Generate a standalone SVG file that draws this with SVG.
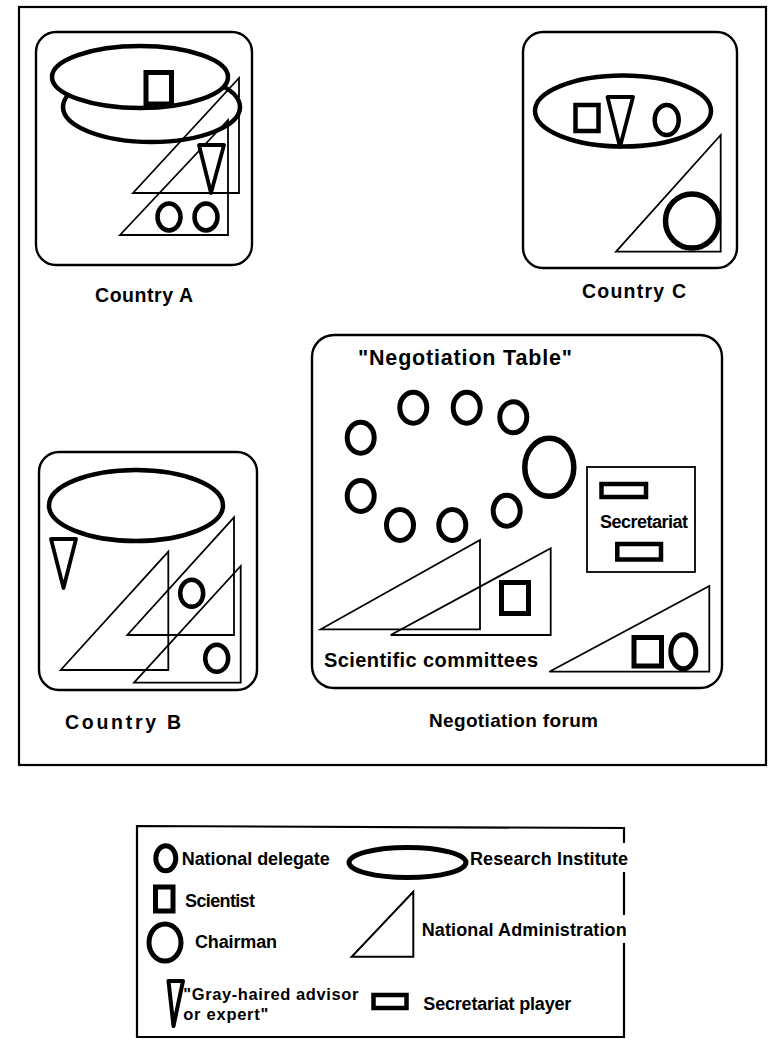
<svg xmlns="http://www.w3.org/2000/svg" width="769" height="1039" viewBox="0 0 769 1039">
<style>
text{font-family:"Liberation Sans",Arial,Helvetica,sans-serif;font-weight:bold;font-size:18px;fill:#000}
.label{font-size:19.5px}
.frame{fill:none;stroke:#000;stroke-width:2.2}
.box{fill:#fff;stroke:#000;stroke-width:2.4}
.thin{fill:none;stroke:#000;stroke-width:1.8;stroke-linejoin:miter}
.thick{fill:#fff;stroke:#000;stroke-width:4.5}
.open{fill:none;stroke:#000;stroke-width:4.5}
.v{fill:#fff;stroke:#000;stroke-width:3.8;stroke-linejoin:round}
</style>
<rect width="769" height="1039" fill="#fff"/>
<rect id="frame" class="frame" x="19" y="7" width="747" height="758"/>
<g id="connectors"/>

<g id="country-a">
  <rect class="box" x="36" y="32" width="216" height="233" rx="20"/>
  <ellipse class="open" cx="151.5" cy="107" rx="88.5" ry="35"/>
  <polygon class="thin" points="239,78 133,193 239,193"/>
  <polygon class="thin" points="228,120 120,235 228,235"/>
  <ellipse class="thick" cx="140" cy="77" rx="88" ry="31"/>
  <rect class="thick" x="146" y="72.5" width="25.5" height="31.5" style="stroke-width:5"/>
  <polygon class="v" points="199,145 224,145 211,193"/>
  <ellipse class="thick" cx="169" cy="217" rx="11.5" ry="13.5"/>
  <ellipse class="thick" cx="206" cy="217" rx="11.5" ry="13.5"/>
  <text class="label" x="95" y="302" textLength="98" lengthAdjust="spacing">Country A</text>
</g>

<g id="country-c">
  <rect class="box" x="523" y="32" width="214" height="236" rx="20"/>
  <ellipse class="thick" cx="623" cy="111" rx="88" ry="35.5"/>
  <rect class="thick" x="575.5" y="105" width="23" height="26"/>
  <polygon class="v" points="607.5,97 633,97 620,147"/>
  <ellipse class="thick" cx="666.7" cy="120" rx="12" ry="15"/>
  <polygon class="thin" points="720.7,135 616,251.7 720.7,251.7"/>
  <ellipse class="thick" cx="692" cy="221" rx="26.5" ry="27" style="stroke-width:5.5"/>
  <text class="label" x="582" y="298" textLength="104" lengthAdjust="spacing">Country C</text>
</g>

<g id="country-b">
  <rect class="box" x="39" y="452" width="218" height="238" rx="20"/>
  <ellipse class="thick" cx="136" cy="505.5" rx="87" ry="35.5"/>
  <polygon class="v" points="51,539 76,539 63.5,588"/>
  <polygon class="thin" points="168.3,551.7 60.7,670 168.3,670"/>
  <polygon class="thin" points="234,517.3 127.3,635 234,635"/>
  <polygon class="thin" points="240.7,566 134,682.7 240.7,682.7"/>
  <ellipse class="thick" cx="191.7" cy="593.3" rx="11.5" ry="13.5"/>
  <ellipse class="thick" cx="216.7" cy="658.3" rx="11.5" ry="13.5"/>
  <text class="label" x="65" y="729" textLength="116" lengthAdjust="spacing">Country B</text>
</g>

<g id="negotiation-forum">
  <rect class="box" x="312" y="335" width="410" height="353" rx="22"/>
  <text x="358" y="365" textLength="214" lengthAdjust="spacing" style="font-size:21.5px">"Negotiation Table"</text>
  <g id="table-delegates">
    <ellipse class="thick" cx="360.7" cy="437.7" rx="13.5" ry="15.5" style="stroke-width:5"/>
    <ellipse class="thick" cx="413.3" cy="407.7" rx="13.5" ry="15.5" style="stroke-width:5"/>
    <ellipse class="thick" cx="466.7" cy="407.7" rx="13.5" ry="15.5" style="stroke-width:5"/>
    <ellipse class="thick" cx="513.3" cy="417.3" rx="13.5" ry="15.5" style="stroke-width:5"/>
    <ellipse class="thick" cx="360.7" cy="496" rx="13.5" ry="15.5" style="stroke-width:5"/>
    <ellipse class="thick" cx="400" cy="525" rx="13.5" ry="15.5" style="stroke-width:5"/>
    <ellipse class="thick" cx="452.3" cy="525" rx="13.5" ry="15.5" style="stroke-width:5"/>
    <ellipse class="thick" cx="506.7" cy="510.7" rx="13.5" ry="15.5" style="stroke-width:5"/>
  </g>
  <ellipse id="chairman" class="thick" cx="549.3" cy="467.3" rx="24.5" ry="29" style="stroke-width:5.5"/>
  <polygon class="thin" points="480,540 320.7,629.3 480,629.3"/>
  <polygon class="thin" points="550.7,548.3 390.7,635 550.7,635"/>
  <rect class="thick" x="501.5" y="582.5" width="27" height="31" style="stroke-width:5"/>
  <polygon class="thin" points="709.3,586 549.3,671.7 709.3,671.7"/>
  <rect class="thick" x="634" y="637.5" width="27.5" height="28.5" style="stroke-width:5"/>
  <ellipse class="thick" cx="683.3" cy="651.7" rx="12.5" ry="17" style="stroke-width:5"/>
  <text x="324" y="667" textLength="214" lengthAdjust="spacing" style="font-size:20px">Scientific committees</text>
  <text class="label" x="429" y="726.7" textLength="169" lengthAdjust="spacing" style="font-size:19px">Negotiation forum</text>
</g>

<g id="secretariat">
  <rect class="thin" x="587" y="467" width="108" height="105"/>
  <rect class="thick" x="601.5" y="484" width="44.5" height="13"/>
  <rect class="thick" x="617.3" y="544" width="43.7" height="15.5"/>
  <text x="600" y="528" textLength="88" lengthAdjust="spacing">Secretariat</text>
</g>

<g id="legend">
  <path class="frame" d="M624,843 L624,828 L137,826 L137,1037 L624,1037 L624,943 M624,872 L624,915"/>
  <ellipse class="thick" cx="165.8" cy="858.3" rx="10" ry="12.5" style="stroke-width:5"/>
  <text x="181.7" y="865" textLength="148" lengthAdjust="spacing">National delegate</text>
  <ellipse class="thick" cx="407.5" cy="862.5" rx="58.5" ry="15" style="stroke-width:5"/>
  <text x="470" y="865" textLength="158" lengthAdjust="spacing">Research Institute</text>
  <rect class="thick" x="155.5" y="887" width="17.5" height="24" style="stroke-width:5"/>
  <text x="185" y="906.5" textLength="70" lengthAdjust="spacing">Scientist</text>
  <ellipse class="thick" cx="165" cy="942.5" rx="16" ry="18.5" style="stroke-width:5"/>
  <text x="195" y="948" textLength="82" lengthAdjust="spacing">Chairman</text>
  <polygon class="thin" points="413.3,891.7 351.7,956.7 413.3,956.7" style="stroke-width:2"/>
  <text x="421.7" y="936" textLength="205" lengthAdjust="spacing">National Administration</text>
  <polygon class="v" points="168.5,981 183,981 173.5,1026" style="stroke-width:4"/>
  <text x="183.3" y="1000" textLength="175" lengthAdjust="spacing" style="font-size:16.5px">"Gray-haired advisor</text>
  <text x="183.3" y="1020" textLength="85" lengthAdjust="spacing" style="font-size:16.5px">or expert"</text>
  <rect class="thick" x="373.5" y="995" width="33" height="13"/>
  <text x="423.3" y="1010" textLength="148" lengthAdjust="spacing">Secretariat player</text>
</g>
</svg>
